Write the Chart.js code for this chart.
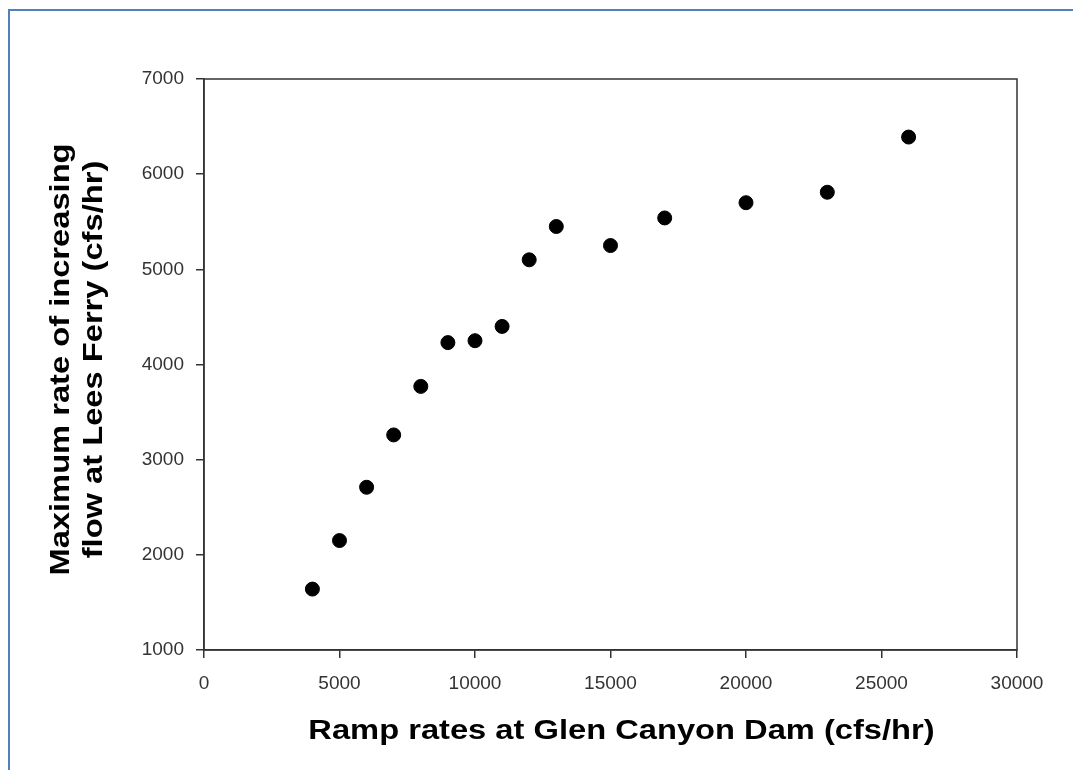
<!DOCTYPE html>
<html lang="en">
<head>
    <meta charset="UTF-8">
    <title>Ramp rates vs Lees Ferry</title>
    <script src="https://cdn.jsdelivr.net/npm/chart.js"></script>
    <style>
        html, body { margin: 0; padding: 0; background: #fff; overflow: hidden; }
        #frame {
            position: absolute; left: 8px; top: 9px;
            width: 1200px; height: 900px;
            border-top: 2px solid #4f81bd; border-left: 2px solid #4f81bd;
        }
        #rampChart { position: absolute; left: 0; top: 0; }
    </style>
</head>
<body>
    <div id="frame"></div>
    <canvas id="rampChart" width="1073" height="770"></canvas>

    <script>
        // Ramp rates at Glen Canyon Dam (cfs/hr)
        const rampRates = [4000, 5000, 6000, 7000, 8000, 9000, 10000, 11000, 12000, 13000, 15000, 17000, 20000, 23000, 26000];
        // Max rate of increasing flow at Lees Ferry (cfs/hr)
        const leesFerry = [1640, 2150, 2710, 3260, 3770, 4230, 4250, 4400, 5100, 5450, 5250, 5540, 5700, 5810, 6390];

        const xTitle = 'Ramp rates at Glen Canyon Dam (cfs/hr)';
        const yTitle = ['Maximum rate of increasing', 'flow at Lees Ferry (cfs/hr)'];

        const points = rampRates.map((x, i) => ({ x: x, y: leesFerry[i] }));

        const titleFont = 'bold 27px "Liberation Sans", Arial, sans-serif';
        const stretch = 1.21; // the original titles are drawn wide

        // box around the plot area + the two axis titles
        const frameAndTitles = {
            id: 'frameAndTitles',
            afterDraw(chart) {
                const a = chart.chartArea;
                const ctx = chart.ctx;
                ctx.save();
                ctx.strokeStyle = '#333';
                ctx.lineWidth = 1.5;
                ctx.strokeRect(a.left, a.top, a.right - a.left, a.bottom - a.top);

                ctx.fillStyle = '#000';
                ctx.font = titleFont;
                ctx.textAlign = 'center';
                ctx.textBaseline = 'middle';

                // x title
                ctx.save();
                ctx.translate((a.left + a.right) / 2 + 11, chart.height - 38);
                ctx.scale(stretch, 1);
                ctx.fillText(xTitle, 0, 0);
                ctx.restore();

                // y title, two lines
                const cy = (a.top + a.bottom) / 2 - 5;
                [62, 95].forEach((cx, i) => {
                    ctx.save();
                    ctx.translate(cx, cy);
                    ctx.rotate(-Math.PI / 2);
                    ctx.scale(stretch, 1);
                    ctx.fillText(yTitle[i], 0, 0);
                    ctx.restore();
                });
                ctx.restore();
            }
        };

        const tickFont = { family: 'Liberation Sans, Arial, sans-serif', size: 19 };

        new Chart(document.getElementById('rampChart').getContext('2d'), {
            type: 'scatter',
            data: {
                datasets: [{
                    data: points,
                    backgroundColor: '#000',
                    borderColor: '#000',
                    pointRadius: 7,
                    pointHoverRadius: 7
                }]
            },
            plugins: [frameAndTitles],
            options: {
                responsive: false,
                animation: false,
                layout: { padding: { left: 0, top: 79, right: 56, bottom: 0 } },
                plugins: { legend: { display: false }, tooltip: { enabled: false } },
                scales: {
                    x: {
                        type: 'linear',
                        min: 0,
                        max: 30000,
                        afterFit(scale) { scale.height = 120; },
                        ticks: { stepSize: 5000, color: '#333', font: tickFont, padding: 14, maxRotation: 0,
                                 callback: v => String(v) },
                        grid: { drawOnChartArea: false, drawTicks: true, tickLength: 8, color: '#333', lineWidth: 1.5 },
                        border: { display: true, color: '#333', width: 1.5 }
                    },
                    y: {
                        type: 'linear',
                        min: 1000,
                        max: 7000,
                        afterFit(scale) { scale.width = 204; },
                        ticks: { stepSize: 1000, color: '#333', font: tickFont, padding: 12,
                                 callback: v => String(v) },
                        grid: { drawOnChartArea: false, drawTicks: true, tickLength: 8, color: '#333', lineWidth: 1.5 },
                        border: { display: true, color: '#333', width: 1.5 }
                    }
                }
            }
        });
    </script>
</body>
</html>
